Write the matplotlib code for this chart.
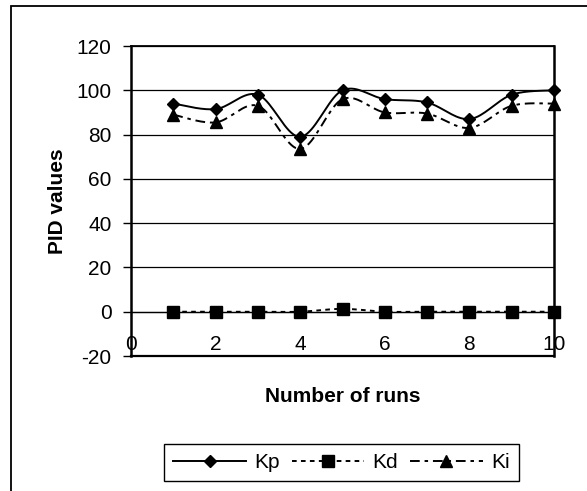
import numpy as np
import matplotlib.pyplot as plt
from matplotlib.patches import Rectangle

plt.rcParams["font.family"] = ["Liberation Sans", "DejaVu Sans"]
plt.rcParams["axes.unicode_minus"] = False

runs = [1, 2, 3, 4, 5, 6, 7, 8, 9, 10]
kp = [94, 91.5, 98, 79, 100, 96, 94.5, 87, 98, 100]
kd = [0, 0, 0, 0, 1.3, 0, 0, 0, 0, 0]
ki = [89, 85.5, 93, 73.5, 96, 90, 89.5, 83, 93, 94]


def smooth(x, y, n=20):
    # Catmull-Rom style curve through the points (spreadsheet "smoothed line")
    x = np.asarray(x, float)
    y = np.asarray(y, float)
    px = np.concatenate([[x[0]], x, [x[-1]]])
    py = np.concatenate([[y[0]], y, [y[-1]]])
    xs, ys = [], []
    t = np.linspace(0, 1, n)
    for i in range(1, len(px) - 2):
        p0x, p1x, p2x, p3x = px[i - 1], px[i], px[i + 1], px[i + 2]
        p0y, p1y, p2y, p3y = py[i - 1], py[i], py[i + 1], py[i + 2]
        c1x, c1y = p1x + (p2x - p0x) / 6, p1y + (p2y - p0y) / 6
        c2x, c2y = p2x - (p3x - p1x) / 6, p2y - (p3y - p1y) / 6
        bx = ((1 - t) ** 3 * p1x + 3 * (1 - t) ** 2 * t * c1x
              + 3 * (1 - t) * t ** 2 * c2x + t ** 3 * p2x)
        by = ((1 - t) ** 3 * p1y + 3 * (1 - t) ** 2 * t * c1y
              + 3 * (1 - t) * t ** 2 * c2y + t ** 3 * p2y)
        xs.extend(bx if i == 1 else bx[1:])
        ys.extend(by if i == 1 else by[1:])
    return np.array(xs), np.array(ys)


fig = plt.figure(figsize=(5.87, 4.91), dpi=100)
ax = fig.add_axes([131 / 587, 1 - 356 / 491, 423 / 587, 310 / 491])

# outer chart-area border (runs off the right and bottom edges)
fig.patches.append(Rectangle((11 / 587, -0.1), 1.2, 1 - 6 / 491 + 0.1,
                             transform=fig.transFigure, fill=False,
                             edgecolor="black", linewidth=1.3))

series = [
    (kp, "Kp", "D", 6.5, "-"),
    (kd, "Kd", "s", 8, (0, (2.4, 2.2))),
    (ki, "Ki", "^", 9, (0, (5, 2.5, 1.8, 2.5))),
]
handles = []
for vals, label, mk, ms, ls in series:
    sx, sy = smooth(runs, vals)
    ax.plot(sx, sy, color="black", linewidth=1.4, linestyle=ls, zorder=3)
    ax.plot(runs, vals, linestyle="none", marker=mk, markersize=ms,
            color="black", zorder=4, clip_on=False)
    h, = ax.plot([], [], marker=mk, markersize=ms, color="black",
                 linewidth=1.4, linestyle=ls, label=label)
    handles.append(h)

ax.set_xlim(0, 10)
ax.set_ylim(-20, 120)
ax.set_yticks(np.arange(-20, 121, 20))
ax.set_xticks([0, 2, 4, 6, 8, 10])
ax.grid(True, axis="y", color="black", linewidth=0.9)
ax.set_axisbelow(True)

# category axis crosses at zero, box closed at -20
ax.spines["bottom"].set_position(("data", 0))
ax.spines["bottom"].set_linewidth(0.9)
ax.axhline(-20, color="black", linewidth=1.6, clip_on=False, zorder=5)
for side in ["left", "right"]:
    ax.spines[side].set_linewidth(1.8)
ax.spines["top"].set_linewidth(1.3)

ax.tick_params(axis="y", length=6, width=1, pad=8, labelsize=15)
ax.tick_params(axis="x", length=3, width=0.8, pad=13.5, labelsize=15)

ax.set_ylabel("PID values", fontsize=15, fontweight="bold")
ax.yaxis.set_label_coords(-0.152, 0.5)
ax.set_xlabel("Number of runs", fontsize=15, fontweight="bold")
ax.xaxis.set_label_coords(0.5, -0.1)

fig.legend(handles=handles, ncol=3, loc="center",
           bbox_to_anchor=(341.5 / 587, 1 - 462.5 / 491),
           fontsize=15, frameon=True, fancybox=False, edgecolor="black",
           framealpha=1, handlelength=3.5, columnspacing=0.55,
           handletextpad=0.4, borderpad=0.45)

fig.savefig("out.png", dpi=100, facecolor="white")
